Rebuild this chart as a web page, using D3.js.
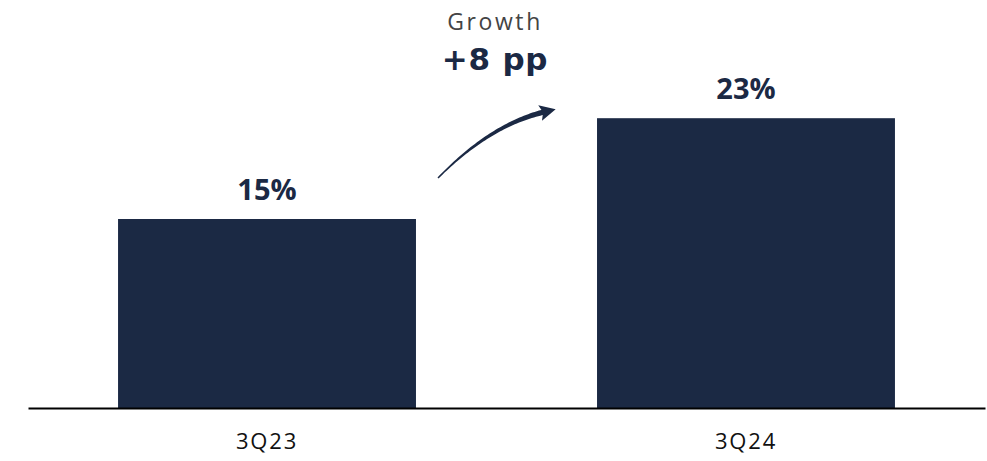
<!DOCTYPE html>
<html>
<head>
<meta charset="utf-8">
<script src="https://cdn.jsdelivr.net/npm/d3@7"></script>
<style>
  html, body { margin: 0; padding: 0; background: #ffffff; }
  svg { display: block; }
</style>
</head>
<body>
<svg id="chart" width="987" height="461"></svg>
<script>
// Quarterly share, in percent
const categories = ["3Q23", "3Q24"];
const values = [15, 23];
const growthTitle = "Growth";
const growthValue = "+8 pp";

const W = 987, H = 461;
const navy = "#1b2944";

const svg = d3.select("#chart");

const x = d3.scaleBand()
  .domain(categories)
  .range([28, 985])
  .paddingInner(0.378)
  .paddingOuter(0.188);

const y = d3.scaleLinear()
  .domain([0, 25])
  .range([408, 93]);

// Bars
svg.append("g")
  .selectAll("rect")
  .data(values)
  .join("rect")
  .attr("x", (d, i) => x(categories[i]))
  .attr("y", d => y(d))
  .attr("width", x.bandwidth())
  .attr("height", d => y(0) - y(d))
  .attr("fill", navy);

// Value labels above bars
svg.append("g")
  .selectAll("text")
  .data(values)
  .join("text")
  .attr("x", (d, i) => x(categories[i]) + x.bandwidth() / 2)
  .attr("y", d => y(d) - 19)
  .attr("text-anchor", "middle")
  .attr("font-family", "'Open Sans', sans-serif")
  .attr("font-weight", 700)
  .attr("font-size", 29)
  .attr("fill", navy)
  .text(d => d + "%");

// Baseline axis with category labels
const axis = svg.append("g")
  .attr("transform", `translate(0,${y(0)})`)
  .call(d3.axisBottom(x).tickSize(0).tickPadding(25));
axis.select(".domain")
  .attr("stroke", "#000")
  .attr("stroke-width", 2);
axis.selectAll("text")
  .attr("font-family", "'Open Sans', sans-serif")
  .attr("font-weight", 400)
  .attr("font-size", 22)
  .attr("letter-spacing", 1.8)
  .attr("fill", "#111");

// Growth annotation
const gx = 495;
svg.append("text")
  .attr("x", gx)
  .attr("y", 30)
  .attr("text-anchor", "middle")
  .attr("font-family", "'Open Sans', sans-serif")
  .attr("font-weight", 400)
  .attr("font-size", 23)
  .attr("letter-spacing", 2.6)
  .attr("fill", "#444")
  .text(growthTitle);

svg.append("text")
  .attr("x", gx)
  .attr("y", 70)
  .attr("text-anchor", "middle")
  .attr("font-family", "'DejaVu Sans', sans-serif")
  .attr("font-weight", 700)
  .attr("font-size", 31)
  .attr("letter-spacing", 0.8)
  .attr("fill", navy)
  .text(growthValue);

// Curved, tapering arrow between the bars
const p0 = [438, 178], c = [490, 125], p2 = [544, 112];
const bez = t => [
  (1 - t) * (1 - t) * p0[0] + 2 * (1 - t) * t * c[0] + t * t * p2[0],
  (1 - t) * (1 - t) * p0[1] + 2 * (1 - t) * t * c[1] + t * t * p2[1]
];
const der = t => [
  2 * (1 - t) * (c[0] - p0[0]) + 2 * t * (p2[0] - c[0]),
  2 * (1 - t) * (c[1] - p0[1]) + 2 * t * (p2[1] - c[1])
];
const ts = d3.range(0, 1.0001, 0.02);
const left = [], right = [];
ts.forEach(t => {
  const p = bez(t), d = der(t);
  const len = Math.hypot(d[0], d[1]);
  const nx = -d[1] / len, ny = d[0] / len;
  const w = 0.7 + 2.0 * t;
  left.push([p[0] + nx * w, p[1] + ny * w]);
  right.push([p[0] - nx * w, p[1] - ny * w]);
});
svg.append("path")
  .attr("d", d3.line()(left.concat(right.reverse())) + "Z")
  .attr("fill", navy);

// Arrow head
const end = bez(1), dEnd = der(1);
const ang = Math.atan2(dEnd[1], dEnd[0]) * 180 / Math.PI;
svg.append("path")
  .attr("d", "M12,0 L-4,-8 L-1,0 L-4,8 Z")
  .attr("transform", `translate(${end[0]},${end[1]}) rotate(${ang})`)
  .attr("fill", navy);
</script>
</body>
</html>
